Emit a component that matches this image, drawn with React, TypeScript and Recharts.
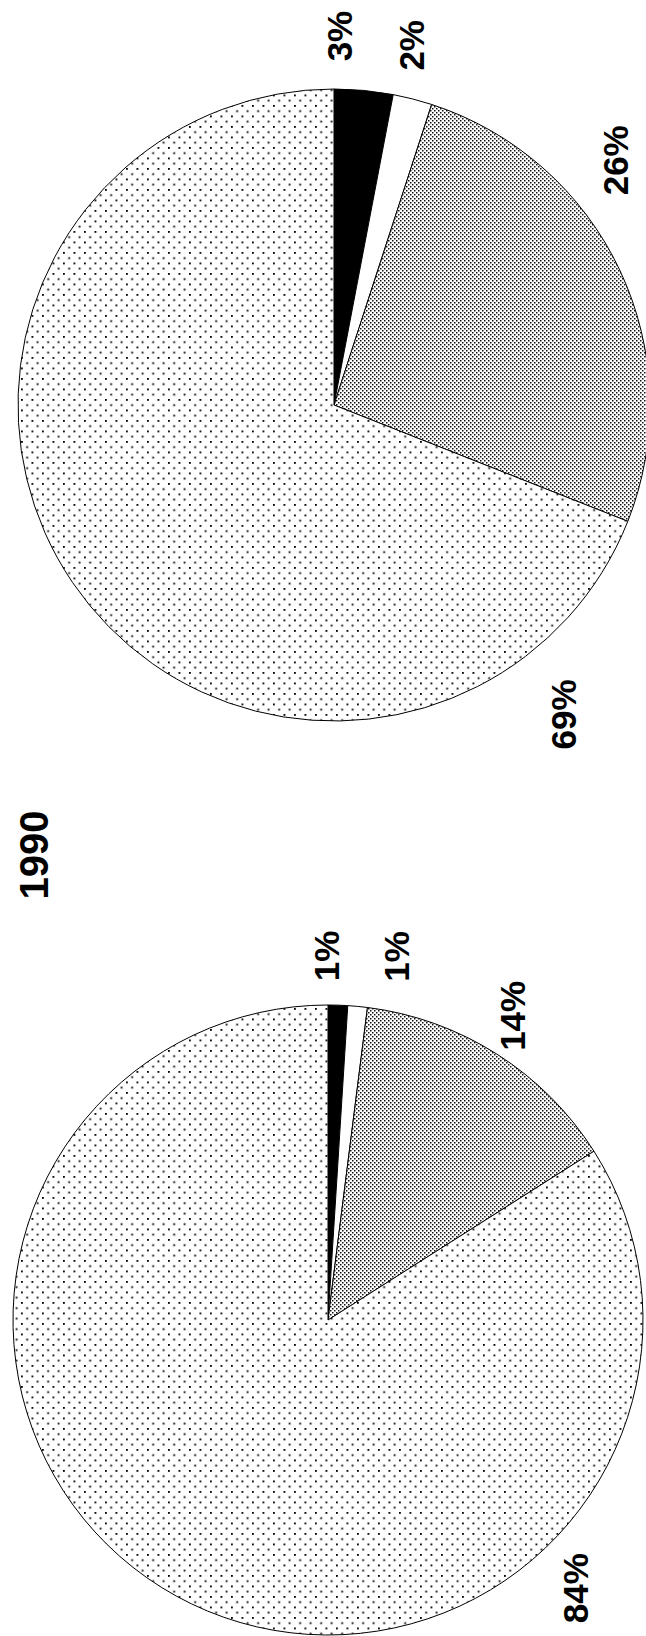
import { PieChart, Pie, Cell } from "recharts";

const W = 646;
const H = 1636;
const RAD = Math.PI / 180;

// Category order runs clockwise from 12 o'clock.
const CATEGORIES = ["solid", "blank", "dense", "sparse"];
const SHARES_1990 = [1, 1, 14, 84];
const SHARES_LATER = [3, 2, 26, 69];

// [angle clockwise from 12 o'clock, gap beyond the rim] for each label
const LABEL_SPOTS_1990: [number, number][] = [
  [-0.3, 49],
  [10.6, 55],
  [31.3, 41],
  [137.3, 50],
];
const LABEL_SPOTS_LATER: [number, number][] = [
  [0.8, 53],
  [12.2, 52],
  [49, 57],
  [143.5, 69],
];

const FILLS: Record<string, string> = {
  solid: "#000000",
  blank: "#ffffff",
  dense: "url(#denseDots)",
  sparse: "url(#sparseDots)",
};

const FONT = "'Liberation Sans', Arial, Helvetica, sans-serif";

const toRows = (shares: number[]) =>
  shares.map((value, i) => ({ name: CATEGORIES[i], value }));

type LabelProps = {
  cx: number;
  cy: number;
  outerRadius: number;
  index: number;
  value: number;
};

/** Rotated percentage labels sitting just outside the rim. */
function makeLabel(spots: [number, number][]) {
  return function renderLabel({ cx, cy, outerRadius, index, value }: LabelProps) {
    const [deg, gap] = spots[index];
    const r = outerRadius + gap;
    const x = cx + r * Math.sin(deg * RAD);
    const y = cy - r * Math.cos(deg * RAD);
    return (
      <text
        key={`lbl-${index}`}
        x={x}
        y={y}
        transform={`rotate(-90 ${x} ${y})`}
        textAnchor="middle"
        dominantBaseline="central"
        fontFamily={FONT}
        fontWeight={700}
        fontSize={35}
        fill="#000"
      >
        {`${value}%`}
      </text>
    );
  };
}

export default function App() {
  const rows1990 = toRows(SHARES_1990);
  const rowsLater = toRows(SHARES_LATER);

  return (
    <div
      style={{
        position: "absolute",
        left: 0,
        top: 0,
        width: W,
        height: H,
        background: "#fff",
        overflow: "hidden",
      }}
    >
      <PieChart width={W} height={H} margin={{ top: 0, right: 0, bottom: 0, left: 0 }}>
        <defs>
          <pattern id="sparseDots" width="10.5" height="10.5" patternUnits="userSpaceOnUse">
            <rect width="10.5" height="10.5" fill="#fff" />
            <rect x="0" y="0" width="1.8" height="1.8" fill="#000" />
            <rect x="5.25" y="5.25" width="1.8" height="1.8" fill="#000" />
          </pattern>
          <pattern id="denseDots" width="4" height="4" patternUnits="userSpaceOnUse">
            <rect width="4" height="4" fill="#fff" />
            <rect x="0" y="0" width="1.5" height="1.5" fill="#111" />
            <rect x="2" y="2" width="1.5" height="1.5" fill="#111" />
          </pattern>
        </defs>

        <text
          x={34}
          y={855}
          transform="rotate(-90 34 855)"
          textAnchor="middle"
          dominantBaseline="central"
          fontFamily={FONT}
          fontWeight={700}
          fontSize={40}
          fill="#000"
        >
          1990
        </text>

        <Pie
          data={rowsLater}
          dataKey="value"
          nameKey="name"
          cx={334}
          cy={405}
          innerRadius={0}
          outerRadius={316}
          startAngle={90}
          endAngle={-270}
          label={makeLabel(LABEL_SPOTS_LATER)}
          labelLine={false}
          isAnimationActive={false}
        >
          {rowsLater.map((row, i) => (
            <Cell key={i} fill={FILLS[row.name]} stroke="#000" strokeWidth={1} />
          ))}
        </Pie>

        <Pie
          data={rows1990}
          dataKey="value"
          nameKey="name"
          cx={328}
          cy={1320}
          innerRadius={0}
          outerRadius={315}
          startAngle={90}
          endAngle={-270}
          label={makeLabel(LABEL_SPOTS_1990)}
          labelLine={false}
          isAnimationActive={false}
        >
          {rows1990.map((row, i) => (
            <Cell key={i} fill={FILLS[row.name]} stroke="#000" strokeWidth={1} />
          ))}
        </Pie>
      </PieChart>
    </div>
  );
}
